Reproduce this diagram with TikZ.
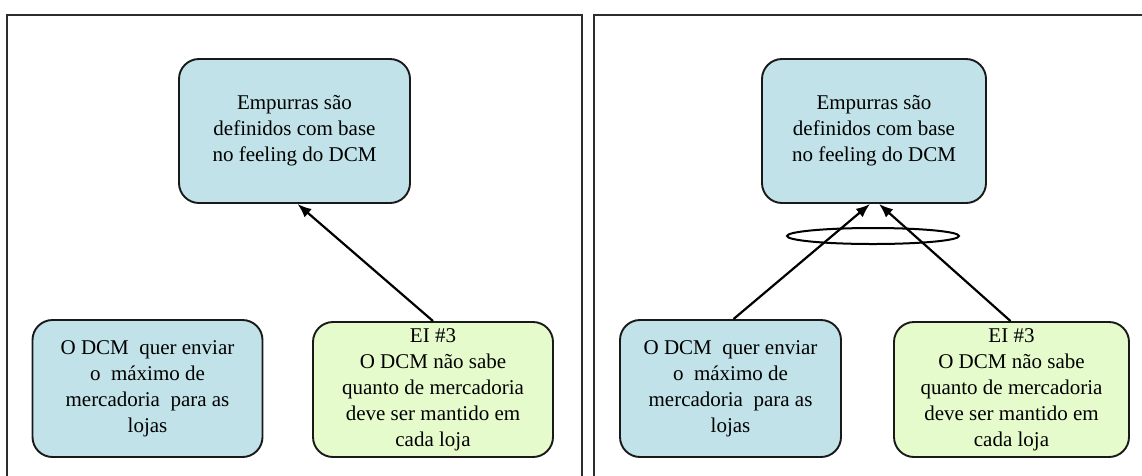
\documentclass[tikz,border=0pt]{standalone}
\usepackage{fontspec}
\setmainfont{Liberation Serif}
\usetikzlibrary{arrows.meta,shapes.geometric}
\definecolor{boxblue}{RGB}{192,226,232}
\definecolor{boxgreen}{RGB}{230,251,204}
\definecolor{framegray}{RGB}{45,45,45}
\tikzset{
  card/.style={draw=black!90, line width=1.9pt, rounded corners=20pt, align=center,
    inner sep=0pt, font=\fontsize{21}{26}\selectfont},
  bluecard/.style={card, fill=boxblue},
  greencard/.style={card, fill=boxgreen},
  link/.style={line width=2.2pt, -{Latex[length=14pt,width=11pt]}},
  panel/.style={draw=framegray, line width=2.2pt}
}
\begin{document}
\begin{tikzpicture}[x=1pt,y=-1pt]
\useasboundingbox (0,0) rectangle (1142,475);
\clip (0,0) rectangle (1142,475);

% panel frames (they run past the lower and right edges)
\draw[panel] (7,500) -- (7,15) -- (582,15) -- (582,500);
\draw[panel] (594,500) -- (594,15) -- (1160,15);

% left panel
\node[bluecard, minimum width=231pt, minimum height=144pt] (t1) at (294.5,131)
  {Empurras são\\definidos com base\\no feeling do DCM};
\node[bluecard, minimum width=230pt, minimum height=137pt] (b1) at (147.5,388.5)
  {O DCM~ quer enviar\\o~ máximo de\\mercadoria~ para as\\lojas};
\node[greencard, minimum width=240pt, minimum height=135pt] (g1) at (433,389.5)
  {EI \#3\\O DCM não sabe\\quanto de mercadoria\\deve ser mantido em\\cada loja};
\draw[link] (g1.north) -- ([xshift=3pt]t1.south);

% right panel
\node[bluecard, minimum width=224pt, minimum height=144pt] (t2) at (874,131)
  {Empurras são\\definidos com base\\no feeling do DCM};
\node[bluecard, minimum width=221pt, minimum height=137pt] (b2) at (730.5,388.5)
  {O DCM~ quer enviar\\o~ máximo de\\mercadoria~ para as\\lojas};
\node[greencard, minimum width=235pt, minimum height=135pt] (g2) at (1011.5,389.5)
  {EI \#3\\O DCM não sabe\\quanto de mercadoria\\deve ser mantido em\\cada loja};
\draw[link] ([xshift=3pt]b2.north) -- ([xshift=-4pt]t2.south);
\draw[link] ([xshift=-1pt]g2.north) -- ([xshift=5pt]t2.south);

% AND ring joining the two links
\node[draw=black, line width=2pt, ellipse, minimum width=172pt, minimum height=16pt,
  inner sep=0pt] (andring) at (873,236) {};
\end{tikzpicture}
\end{document}
